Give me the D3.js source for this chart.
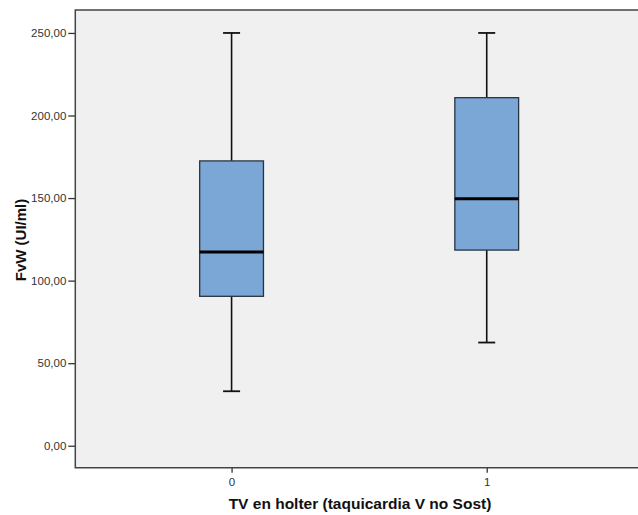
<!DOCTYPE html>
<html>
<head>
<meta charset="utf-8">
<script src="https://cdn.jsdelivr.net/npm/d3@7"></script>
<style>
  html, body { margin: 0; padding: 0; background: #ffffff; }
  svg { display: block; }
</style>
</head>
<body>
<script>
// Groups on the x axis
const categories = ["0", "1"];
// Five-number summaries per group (whisker low, Q1, median, Q3, whisker high)
const whiskerLow = [33.0, 62.5];
const q1 = [90.5, 118.5];
const median = [117.3, 149.6];
const q3 = [172.5, 210.8];
const whiskerHigh = [250.0, 250.0];
// Y tick values
const yTicks = [0, 50, 100, 150, 200, 250];

const width = 638, height = 515;
const plot = { left: 75.3, top: 10, right: 643, bottom: 467.7 };

const svg = d3.select("body").append("svg")
  .attr("width", width).attr("height", height);

const x = d3.scalePoint()
  .domain(categories)
  .range([plot.left, plot.right])
  .padding(0.6125);

const y = d3.scaleLinear()
  .domain([-13.3, 263.9])
  .range([plot.bottom, plot.top]);

// plot background
svg.append("rect")
  .attr("x", plot.left).attr("y", plot.top)
  .attr("width", plot.right - plot.left).attr("height", plot.bottom - plot.top)
  .attr("fill", "#f0f0f0");

const fmt = v => d3.format(".2f")(v).replace(".", ",");

// y axis
const yAxis = svg.append("g")
  .attr("transform", `translate(${plot.left},0)`)
  .call(d3.axisLeft(y).tickValues(yTicks).tickFormat(fmt).tickSize(7).tickPadding(2));
yAxis.select(".domain").remove();
yAxis.selectAll(".tick line").attr("stroke", "#333").attr("stroke-width", 1.3);
yAxis.selectAll(".tick text")
  .attr("fill", "#333").attr("font-family", "Arial, 'Liberation Sans', sans-serif")
  .attr("font-size", 11.5);

// x axis
const xAxis = svg.append("g")
  .attr("transform", `translate(0,${plot.bottom})`)
  .call(d3.axisBottom(x).tickSize(5).tickPadding(5));
xAxis.select(".domain").remove();
xAxis.selectAll(".tick line").attr("stroke", "#333").attr("stroke-width", 1.3);
xAxis.selectAll(".tick text")
  .attr("fill", "#333").attr("font-family", "Arial, 'Liberation Sans', sans-serif")
  .attr("font-size", 11.5);

// frame: left, top, bottom edges
svg.append("path")
  .attr("d", `M${plot.right},${plot.top}H${plot.left}V${plot.bottom}H${plot.right}`)
  .attr("fill", "none").attr("stroke", "#444").attr("stroke-width", 1.5);

const boxW = x.step() * 0.25;
const capW = 17;

const groups = svg.append("g").selectAll("g")
  .data(categories.map((c, i) => ({
    c, lo: whiskerLow[i], q1: q1[i], med: median[i], q3: q3[i], hi: whiskerHigh[i]
  })))
  .join("g");

// whiskers
groups.append("line")
  .attr("x1", d => x(d.c)).attr("x2", d => x(d.c))
  .attr("y1", d => y(d.hi)).attr("y2", d => y(d.q3))
  .attr("stroke", "#111").attr("stroke-width", 1.6);
groups.append("line")
  .attr("x1", d => x(d.c)).attr("x2", d => x(d.c))
  .attr("y1", d => y(d.q1)).attr("y2", d => y(d.lo))
  .attr("stroke", "#111").attr("stroke-width", 1.6);
// caps
groups.append("line")
  .attr("x1", d => x(d.c) - capW / 2).attr("x2", d => x(d.c) + capW / 2)
  .attr("y1", d => y(d.hi)).attr("y2", d => y(d.hi))
  .attr("stroke", "#111").attr("stroke-width", 1.8);
groups.append("line")
  .attr("x1", d => x(d.c) - capW / 2).attr("x2", d => x(d.c) + capW / 2)
  .attr("y1", d => y(d.lo)).attr("y2", d => y(d.lo))
  .attr("stroke", "#111").attr("stroke-width", 1.8);
// boxes
groups.append("rect")
  .attr("x", d => x(d.c) - boxW / 2)
  .attr("y", d => y(d.q3))
  .attr("width", boxW)
  .attr("height", d => y(d.q1) - y(d.q3))
  .attr("fill", "#7ba7d6")
  .attr("stroke", "#2a3440").attr("stroke-width", 1.3);
// medians
groups.append("line")
  .attr("x1", d => x(d.c) - boxW / 2).attr("x2", d => x(d.c) + boxW / 2)
  .attr("y1", d => y(d.med)).attr("y2", d => y(d.med))
  .attr("stroke", "#000").attr("stroke-width", 3);

// axis titles
svg.append("text")
  .attr("x", 360).attr("y", 509)
  .attr("text-anchor", "middle")
  .attr("font-family", "Arial, 'Liberation Sans', sans-serif")
  .attr("font-weight", "bold").attr("font-size", 15.5)
  .attr("fill", "#111")
  .text("TV en holter (taquicardia V no Sost)");

svg.append("text")
  .attr("transform", `translate(26,240) rotate(-90)`)
  .attr("text-anchor", "middle")
  .attr("font-family", "Arial, 'Liberation Sans', sans-serif")
  .attr("font-weight", "bold").attr("font-size", 15)
  .attr("fill", "#111")
  .text("FvW (UI/ml)");
</script>
</body>
</html>
